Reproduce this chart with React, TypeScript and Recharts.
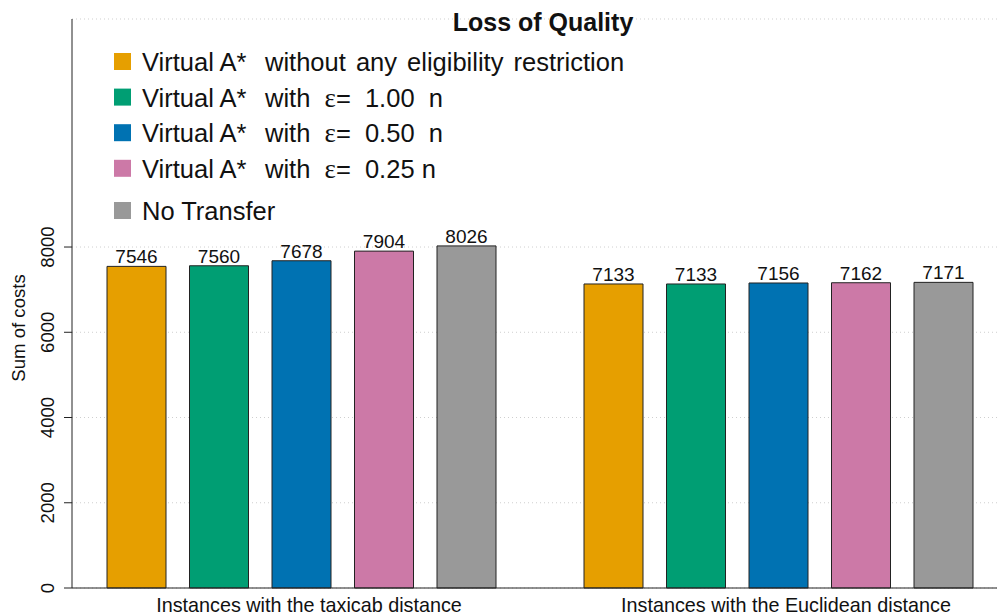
import React from 'react';
import { BarChart, Bar, XAxis, YAxis, CartesianGrid, LabelList, Legend } from 'recharts';

const categories = ['Instances with the taxicab distance', 'Instances with the Euclidean distance'];
const seriesNames = [
    'Virtual A*  without any eligibility restriction',
    'Virtual A*  with  ε=  1.00  n',
    'Virtual A*  with  ε=  0.50  n',
    'Virtual A*  with  ε=  0.25 n',
    'No Transfer',
];
const seriesColors = ['#E69F00', '#009E73', '#0072B2', '#CC79A7', '#999999'];
const noRestriction = [7546, 7133];
const eps100 = [7560, 7133];
const eps050 = [7678, 7156];
const eps025 = [7904, 7162];
const noTransfer = [8026, 7171];
const yTicks = [0, 2000, 4000, 6000, 8000];

const seriesValues = [noRestriction, eps100, eps050, eps025, noTransfer];
const keys = ['s0', 's1', 's2', 's3', 's4'];

const data = categories.map((category, i) => {
    const row: any = { category };
    keys.forEach((k, j) => { row[k] = seriesValues[j][i]; });
    return row;
});

const SANS = '"Liberation Sans", Arial, Helvetica, sans-serif';
const INK = '#111';

const YTick = (props: any) => {
    const { y, payload } = props;
    return (
        <text x={54} y={y} transform={`rotate(-90, 54, ${y})`} textAnchor="middle"
            fontFamily={SANS} fontSize={18.6} fill={INK}>
            {payload.value}
        </text>
    );
};

const XTick = (props: any) => {
    const { x, payload } = props;
    return (
        <text x={x + 7.5} y={612} textAnchor="middle" fontFamily={SANS} fontSize={19.8} fill={INK}>
            {payload.value}
        </text>
    );
};

// legend label: split "Virtual A*" from the rest, epsilon drawn in a serif face
const LegendLabel = ({ name, y }: { name: string; y: number }) => {
    if (!name.startsWith('Virtual A*')) {
        return <text x={142} y={y} fontFamily={SANS} fontSize={25.5} fill={INK}>{name}</text>;
    }
    const rest = name.slice('Virtual A*'.length).trim();
    const parts = rest.split('ε');
    return (
        <g>
            <text x={142} y={y} fontFamily={SANS} fontSize={25.5} fill={INK}>Virtual A*</text>
            <text x={265} y={y} fontFamily={SANS} fontSize={25.5} fill={INK}
                style={{ whiteSpace: 'pre', wordSpacing: parts.length > 1 ? 0 : 3 }}>
                {parts[0]}
                {parts.length > 1 && (
                    <>
                        <tspan fontFamily='"Liberation Serif", "DejaVu Serif", serif' fontSize={27}>ε</tspan>
                        <tspan>{parts[1]}</tspan>
                    </>
                )}
            </text>
        </g>
    );
};

const LegendBox = () => (
    <svg width={997} height={240} style={{ display: 'block' }}>
        {seriesNames.map((name, i) => {
            const base = i < 4 ? 71 + i * 35.6 : 220;
            return (
                <g key={name}>
                    <rect x={114} y={base - 18} width={17} height={17} fill={seriesColors[i]} />
                    <LegendLabel name={name} y={base} />
                </g>
            );
        })}
    </svg>
);

const App: React.FC = () => {
    return (
        <div style={{ position: 'absolute', left: 0, top: 0, width: 997, height: 615, overflow: 'hidden', background: '#fff' }}>
            <BarChart width={1020} height={615} data={data}
                margin={{ top: 19, right: 3, bottom: 0, left: 0 }}
                barGap={23.5} barCategoryGap={44}>
                <CartesianGrid vertical={false} stroke="#cfcfcf" strokeDasharray="1 3" />
                <XAxis dataKey="category" height={27} tickLine={false} interval={0}
                    axisLine={{ stroke: '#222' }} padding={{ left: -9, right: 0 }} tick={<XTick />} />
                <YAxis width={72} domain={[0, 13350]} ticks={yTicks} tickSize={8}
                    tickLine={{ stroke: '#222' }} axisLine={{ stroke: '#222' }} tick={<YTick />}
                    label={{
                        content: () => (
                            <text x={25} y={328} transform="rotate(-90, 25, 328)" textAnchor="middle"
                                fontFamily={SANS} fontSize={18.6} fill={INK}>
                                Sum of costs
                            </text>
                        ),
                    }} />
                <Legend layout="vertical" verticalAlign="middle" align="center" content={<LegendBox />}
                    wrapperStyle={{ position: 'absolute', left: 0, top: 0, width: 997, height: 240 }} />
                {keys.map((k, i) => (
                    <Bar key={k} dataKey={k} name={seriesNames[i]} fill={seriesColors[i]}
                        stroke="#222" strokeWidth={1} barSize={59} isAnimationActive={false}>
                        <LabelList dataKey={k} position="top" offset={3} fontFamily={SANS}
                            fontSize={19} fill={INK} />
                    </Bar>
                ))}
            </BarChart>
            <svg width={997} height={40} style={{ position: 'absolute', left: 0, top: 0 }}>
                <text x={543} y={31} textAnchor="middle" fontFamily={SANS} fontWeight="bold"
                    fontSize={25} fill={INK}>
                    Loss of Quality
                </text>
            </svg>
        </div>
    );
};

export default App;
